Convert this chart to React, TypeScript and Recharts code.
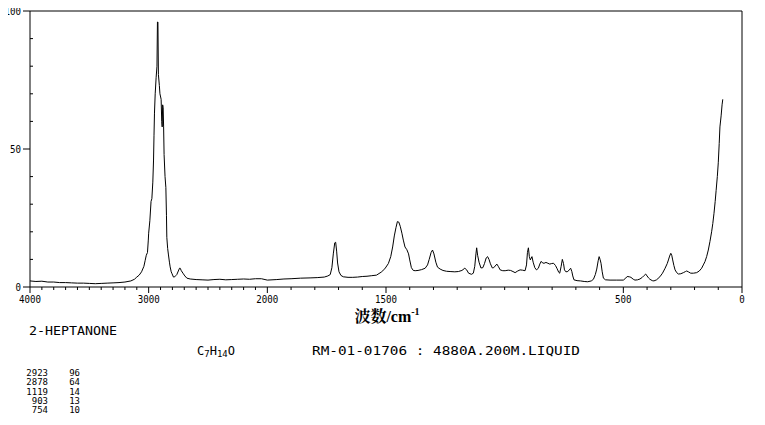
import React from 'react';
import { LineChart, Line, XAxis, YAxis, ReferenceLine } from 'recharts';

const wavenumbers = [
  4000, 3950, 3900, 3850, 3800, 3750, 3700, 3650, 3600, 3550, 3500, 3450, 3400, 3350, 3300, 3250, 3200, 3150, 3120,
  3100, 3080, 3060, 3040, 3030, 3020, 3010, 3003, 3000, 2990, 2980, 2973, 2965, 2959, 2955, 2951, 2945, 2937, 2930,
  2926, 2922, 2918, 2910, 2905, 2895, 2890, 2886, 2882, 2878, 2874, 2870, 2862, 2855, 2850, 2847, 2840, 2833, 2825,
  2819, 2810, 2805, 2791, 2780, 2770, 2763, 2750, 2740, 2734, 2725, 2711, 2695, 2678, 2650, 2600, 2550, 2500, 2450,
  2400, 2350, 2300, 2250, 2200, 2150, 2100, 2050,
  2000, 1960, 1930, 1900, 1860, 1820, 1790, 1760, 1745, 1735, 1728, 1722, 1716, 1712, 1708, 1704, 1698, 1690, 1680,
  1660, 1640, 1620, 1600, 1580, 1560, 1540, 1520, 1505, 1490, 1480, 1472, 1465, 1458, 1452, 1446, 1440, 1433, 1427,
  1420, 1412, 1405, 1400, 1393, 1385, 1377, 1365, 1350, 1335, 1325, 1318, 1310, 1304, 1298, 1290, 1283, 1272, 1260,
  1245, 1230, 1210, 1195, 1180, 1168, 1160, 1152, 1140, 1132, 1126, 1121, 1118, 1114, 1108, 1100, 1092, 1085, 1078,
  1072, 1066, 1060, 1052, 1046, 1040, 1033, 1027, 1019, 1008, 998, 985, 975, 965, 956, 945, 935, 925, 914, 908, 904,
  900, 896, 892, 888, 885, 880, 873, 866, 858, 852, 846, 840, 834, 826, 818, 810, 802, 794, 786, 780, 772, 768, 762,
  757, 752, 748, 742, 734, 728, 722, 717, 713, 708, 695, 680, 665, 650, 635, 626, 618, 612, 606, 602, 598, 594, 589,
  584, 575, 556, 530, 500, 490, 484, 475, 468, 458, 451, 440, 430, 420, 412, 406, 400, 394, 388, 378, 371, 360, 346,
  335, 324, 315, 310, 305, 300, 296, 292, 287, 282, 275, 268, 258, 247, 238, 233, 226, 216, 205, 191, 180, 170, 163,
  156, 149, 142, 135, 128, 123, 118, 113, 109, 104, 100, 96, 93, 88, 84, 81,
];

const intensities = [
  2.2, 2.0, 2.1, 1.8, 1.8, 1.6, 1.6, 1.5, 1.4, 1.4, 1.3, 1.2, 1.3, 1.4, 1.5, 1.6, 1.8, 2.2, 2.8,
  3.6, 4.3, 5.5, 7.5, 9.5, 11.5, 12.5, 17, 19.5, 24, 31, 32, 38, 46, 55, 63, 70, 76, 80,
  96, 96, 77, 73, 70, 68, 60, 58, 66, 65, 58, 48, 40, 36, 26, 18, 14, 11.6, 9,
  7.3, 5.5, 5, 3.6, 3.7, 4.2, 4.5, 5.8, 6.8, 6.8, 5.9, 5, 4, 3.2, 2.9, 2.7, 2.6, 2.5, 2.7,
  2.8, 2.6, 2.7, 2.8, 2.9, 2.8, 3.0, 3.0,
  2.5, 2.7, 2.9, 3.0, 3.2, 3.3, 3.4, 3.6, 4.0, 4.5, 7, 12, 16, 16.2, 13, 8.7, 5.5, 4.2, 3.7,
  3.5, 3.5, 3.6, 3.8, 3.9, 4.1, 4.3, 5.4, 6.6, 8.5, 11, 14.5, 18.5, 21.5, 23.7, 23.5, 22, 19.5, 17,
  14.5, 13.5, 12, 9.8, 7, 6.0, 5.9, 6.0, 6.3, 6.8, 8, 10, 12.5, 13.4, 12, 9, 7.2, 6.5, 6.0,
  5.7, 5.6, 5.5, 5.6, 6.0, 6.8, 6.2, 5.0, 4.6, 5.0, 7.5, 12, 14.2, 11.5, 9, 6.9, 7.0, 8.5, 10.5,
  11, 10, 8.4, 6.9, 7.0, 7.6, 8.3, 7.5, 6.2, 5.9, 5.9, 6.1, 6.0, 5.6, 5.2, 5.8, 6.2, 6.1, 5.9, 8, 12.5,
  14.2, 11, 9.8, 10.5, 11, 9, 7, 6.2, 6.8, 8.3, 9.3, 8.7, 8.6, 8.9, 8.6, 8.3, 8.5, 8.6, 7.8, 6.8, 5.3, 5.0, 7.5,
  10, 8.5, 6.2, 5.5, 5.6, 6.2, 6.8, 5.6, 4.0, 2.6, 2.3, 2.2, 2.0, 1.9, 2.2, 2.8, 4.5, 6.5, 9.5, 11, 10, 8.6, 5.5,
  3.2, 2.6, 2.5, 2.5, 2.5, 3.2, 3.8, 3.7, 3.5, 2.8, 2.5, 2.6, 2.9, 3.5, 4.2, 4.7, 4.0, 3.3, 2.8, 2.3, 2.2, 2.6, 3.7,
  5.0, 6.8, 8.5, 9.8, 11.2, 12.2, 11.5, 9.8, 7.8, 6.2, 5.2, 4.7, 4.8, 5.2, 5.6, 5.8, 5.5, 5.0, 5.0, 5.2, 5.8, 6.8, 8,
  9.2, 11, 13.4, 16.5, 20, 23, 26.7, 31, 35, 40, 45, 52, 58, 62, 66, 68,
];

const xTickValues = [
  4000, 3900, 3800, 3700, 3600, 3500, 3400, 3300, 3200, 3100, 3000, 2900, 2800, 2700, 2600, 2500, 2400, 2300, 2200,
  2100, 2000, 1900, 1800, 1700, 1600, 1500, 1400, 1300, 1200, 1100, 1000, 900, 800, 700, 600, 500, 400, 300, 200,
  100, 0,
];
const xTickLabels = [4000, 3000, 2000, 1500, 500, 0];
const yTickValues = [0, 10, 20, 30, 40, 50, 60, 70, 80, 90, 100];
const yTickLabels = [0, 50, 100];

const compoundName = '2-HEPTANONE';
const sampleInfo = 'RM-01-01706 : 4880A.200M.LIQUID';
const peakWavenumbers = [2923, 2878, 1119, 903, 754];
const peakIntensities = [96, 64, 14, 13, 10];

// The x axis is compressed 2:1 above 2000 cm-1 (as in the original spectrum)
const toAxis = (wn: number) => (wn > 2000 ? 2000 + (wn - 2000) / 2 : wn);
const fromAxis = (u: number) => Math.round(u > 2000 ? 2000 + (u - 2000) * 2 : u);

const data = wavenumbers.map((wn, i) => ({ u: toAxis(wn), v: intensities[i] }));

const MONO = '"DejaVu Sans Mono", "Liberation Mono", monospace';

const XTick = (props: any) => {
  const { x, y, payload } = props;
  const wn = fromAxis(payload.value);
  const major = xTickLabels.includes(wn);
  const label = String(wn);
  return (
    <g>
      <line x1={x} x2={x} y1={y} y2={y + (major ? 6 : 3)} stroke="#000" strokeWidth={1} />
      {major && (
        <text
          x={x}
          y={y + 16}
          textAnchor="middle"
          fontFamily={MONO}
          fontSize={11}
          fill="#000"
          textLength={label.length * 5.5}
          lengthAdjust="spacingAndGlyphs"
        >
          {label}
        </text>
      )}
    </g>
  );
};

const YTick = (props: any) => {
  const { x, y, payload } = props;
  const v = payload.value;
  const major = yTickLabels.includes(v);
  const label = String(v);
  return (
    <g>
      {major ? (
        <line x1={x - 7} x2={x} y1={y} y2={y} stroke="#000" strokeWidth={1} />
      ) : (
        <line x1={x} x2={x + 3} y1={y} y2={y} stroke="#000" strokeWidth={1} />
      )}
      {major && (
        <text
          x={x - 9}
          y={y + 4}
          textAnchor="end"
          fontFamily={MONO}
          fontSize={11}
          fill="#000"
          textLength={label.length * 5.5}
          lengthAdjust="spacingAndGlyphs"
        >
          {label}
        </text>
      )}
    </g>
  );
};

export default function App() {
  const W = 765;
  const H = 425;
  return (
    <div style={{ position: 'relative', left: -8, top: -8, width: W, height: H, background: '#fff' }}>
      <LineChart width={W} height={H} data={data} margin={{ top: 11, right: 23, left: 0, bottom: 108 }}>
        <XAxis
          type="number"
          dataKey="u"
          domain={[0, 3000]}
          reversed
          ticks={xTickValues.map(toAxis)}
          interval={0}
          tickSize={0}
          tickMargin={0}
          tick={<XTick />}
          axisLine={{ stroke: '#000', strokeWidth: 1 }}
          height={30}
          allowDataOverflow
        />
        <YAxis
          type="number"
          domain={[0, 100]}
          ticks={yTickValues}
          interval={0}
          tickSize={0}
          tickMargin={0}
          tick={<YTick />}
          axisLine={{ stroke: '#000', strokeWidth: 1 }}
          width={30}
          allowDataOverflow
        />
        <ReferenceLine y={100} stroke="#000" strokeWidth={1} />
        <ReferenceLine x={0} stroke="#000" strokeWidth={1} />
        <Line
          type="linear"
          dataKey="v"
          stroke="#000"
          strokeWidth={1}
          dot={false}
          isAnimationActive={false}
        />
      </LineChart>
      <svg
        width={W}
        height={H}
        style={{ position: 'absolute', left: 0, top: 0, pointerEvents: 'none' }}
      >
        <text x={387} y={322} textAnchor="middle" fontSize={16} fontWeight="bold" fill="#000"
          fontFamily='"Noto Serif CJK SC", "Noto Sans CJK SC", serif'>
          波数
          <tspan fontFamily='"Liberation Serif", "DejaVu Serif", serif'>/cm</tspan>
          <tspan dy={-7} fontSize={10} fontFamily='"Liberation Serif", "DejaVu Serif", serif'>-1</tspan>
        </text>
        <text x={29} y={335} fontFamily={MONO} fontSize={12} fill="#000" textLength={88} lengthAdjust="spacingAndGlyphs">
          {compoundName}
        </text>
        <text x={197} y={355} fontFamily={MONO} fontSize={12} fill="#000">
          C<tspan dy={2} fontSize={9}>7</tspan>
          <tspan dy={-2}>H</tspan>
          <tspan dy={2} fontSize={9}>14</tspan>
          <tspan dy={-2}>O</tspan>
        </text>
        <text x={312} y={355} fontFamily={MONO} fontSize={12} fill="#000" textLength={268} lengthAdjust="spacingAndGlyphs">
          {sampleInfo}
        </text>
        {peakWavenumbers.map((p, i) => (
          <g key={p}>
            <text x={48} y={376 + i * 9.3} textAnchor="end" fontFamily={MONO} fontSize={9} fill="#000">
              {p}
            </text>
            <text x={80} y={376 + i * 9.3} textAnchor="end" fontFamily={MONO} fontSize={9} fill="#000">
              {peakIntensities[i]}
            </text>
          </g>
        ))}
      </svg>
    </div>
  );
}
